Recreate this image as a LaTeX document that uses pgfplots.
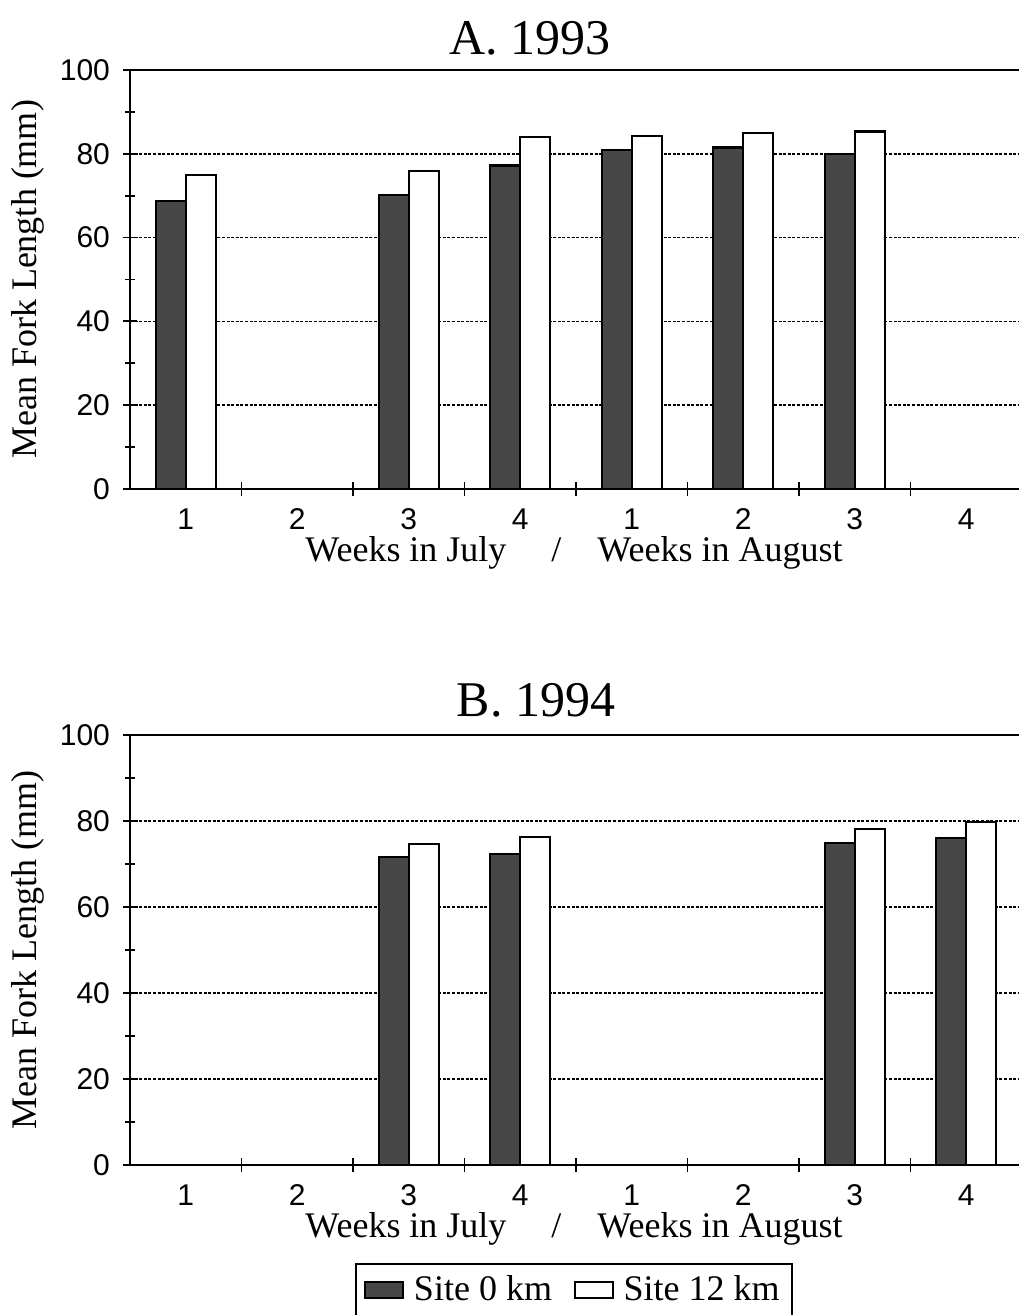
\documentclass[border=0pt]{standalone}
\usepackage{fontspec}
\setmainfont{Liberation Serif}
\setsansfont{Liberation Sans}
\usepackage{pgfplots}
\pgfplotsset{compat=1.18}

\pgfplotstableread{
x  a     b
1  68.8  75.0
3  70.2  75.9
4  77.2  84.1
5  81.0  84.2
6  81.5  84.9
7  79.9  85.3
}\dataA
\pgfplotstableread{
x  a     b
3  71.6  74.7
4  72.4  76.3
7  74.9  78.2
8  76.1  79.8
}\dataB

\pgfplotsset{
  panel/.style={
    scale only axis, width=444pt,
    xmin=0.5, xmax=8.464, ymin=0, ymax=100,
    axis x line*=box, axis y line*=left,
    axis line style={-, line width=1.1pt, black},
    xtick pos=bottom, ytick pos=left,
    ybar=0pt, bar width=15pt,
    ytick={0,20,...,100}, minor ytick={10,30,...,90},
    xtick={1.5,2.5,...,7.5}, xticklabels={},
    extra x ticks={1,2,...,8}, extra x tick labels={1,2,3,4,1,2,3,4},
    extra x tick style={major tick length=0pt},
    tick align=center, major tick length=7pt, minor tick length=5pt,
    tick style={black, line width=0.9pt},
    ymajorgrids,
    major grid style={black, line width=0.8pt, dash pattern=on 1.5pt off 0.8pt},
    /pgf/number format/assume math mode=true,
    tick label style={font=\sffamily\fontsize{15}{15}\selectfont},
    yticklabel style={xshift=-3pt},
    xticklabel style={anchor=center, yshift=-15pt},
    label style={font=\fontsize{18}{18}\selectfont},
    ylabel={Mean Fork Length (mm)},
    ylabel style={at={(axis description cs:-0.1149,0.5)}, anchor=center, rotate=0},
    xlabel={Weeks in July \quad/\quad Weeks in August},
    xlabel style={at={(axis description cs:0.5,0)}, anchor=center, yshift=-32pt},
    legend image code/.code={\draw[#1, line width=0.8pt] (0pt,-4pt) rectangle (19pt,4pt);},
  },
  dark/.style={draw=black, line width=1.1pt, fill=black!72},
  light/.style={draw=black, line width=1.1pt, fill=white},
}

\begin{document}
\begin{tikzpicture}
\begin{axis}[panel, height=209.5pt, at={(65pt,-35pt)}, anchor=north west]
\addplot[dark] table[x=x, y=a] {\dataA};
\addplot[light] table[x=x, y=b] {\dataA};
\end{axis}
\node[font=\fontsize{25}{25}\selectfont] at (265pt,-19pt) {A.\ 1993};

\begin{axis}[panel, height=215pt, at={(65pt,-367.5pt)}, anchor=north west,
  legend style={at={(axis description cs:0.5,-0.29)}, anchor=center,
    legend columns=2, draw=black, line width=1pt,
    font=\fontsize{18}{18}\selectfont, inner xsep=4pt, inner ysep=4pt,
    /tikz/every odd column/.append style={column sep=3pt},
    /tikz/every even column/.append style={column sep=9pt}}]
\addplot[dark] table[x=x, y=a] {\dataB};
\addplot[light] table[x=x, y=b] {\dataB};
\legend{Site 0 km, Site 12 km}
\end{axis}
\node[font=\fontsize{25}{25}\selectfont] at (268pt,-350pt) {B.\ 1994};

\pgfresetboundingbox
\path[use as bounding box] (0,0) rectangle (509pt,-657.5pt);
\end{tikzpicture}
\end{document}
